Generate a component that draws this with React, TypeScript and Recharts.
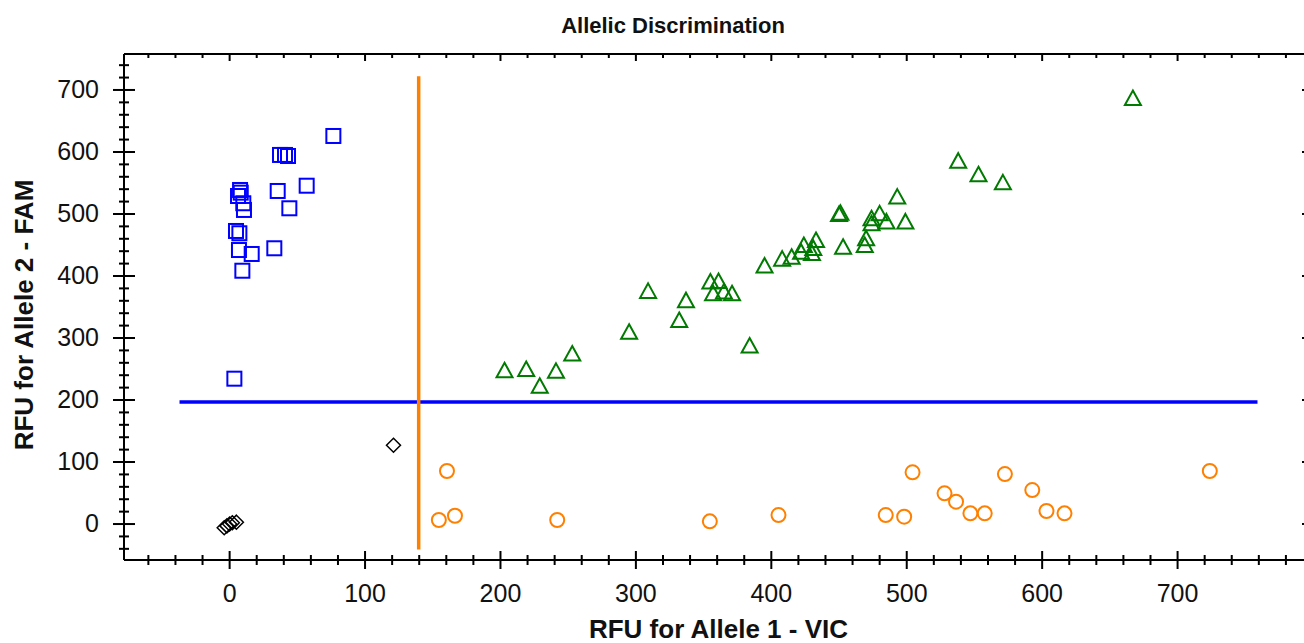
import React from 'react';
import {
  ScatterChart,
  Scatter,
  XAxis,
  YAxis,
  ReferenceLine,
  Label,
} from 'recharts';

// allele 2 homozygotes (FAM)
const allele2X = [76.6, 37.2, 40.9, 43.1, 56.9, 35.5, 44.1, 8.2, 7.7, 6.2, 10.1, 10.6, 4.7, 7.2, 6.9, 16.3, 33.0, 9.4, 3.5];
const allele2Y = [625.8, 595.2, 595.2, 593.5, 545.6, 537.1, 509.2, 534.4, 538.7, 529, 517.3, 506.5, 472.6, 468.9, 441.9, 435.5, 444.7, 408.5, 234.4];

// heterozygotes
const heteroX = [203, 219, 229, 241, 253, 295, 309, 332, 337, 355, 361, 357, 365, 371, 384, 395, 408, 415, 422, 424, 430, 431, 433, 450, 451, 453, 469, 470, 474, 474, 480, 485, 493, 499, 538, 553, 571, 667];
const heteroY = [248, 250, 223, 247, 275, 310, 376, 329, 361, 391, 392, 372, 375, 372, 288, 417, 428, 431, 439, 450, 437, 445, 458, 500, 502, 447, 450, 461, 485, 493, 501, 488, 528, 488, 586, 564, 551, 687];

// allele 1 homozygotes (VIC)
const allele1X = [160.5, 154.5, 166.4, 241.9, 354.6, 405.3, 484.5, 498.1, 504.3, 527.9, 536.4, 547, 557.6, 572.5, 592.7, 603.2, 616.5, 723.8];
const allele1Y = [85.5, 6.5, 13.4, 6.5, 4.3, 14.5, 14.5, 11.8, 83.4, 49.5, 36, 17.2, 17.2, 80.6, 54.8, 21, 17.2, 85.5];

// no template controls / undetermined
const ntcX = [-4, -2, 0, 2, 5, 121];
const ntcY = [-6, -3, 0, 2, 3, 127];

// threshold lines
const vicThreshold = 139.6;
const vicThresholdSpan = [-41, 722];
const famThreshold = 197;
const famThresholdSpan = [-37, 759];

const xDomain = [-78, 800];
const yDomain = [-58, 758];
const xTicks = Array.from({ length: 43 }, (_, i) => -60 + i * 20);
const yTicks = Array.from({ length: 40 }, (_, i) => -40 + i * 20);

const zip = (xs: number[], ys: number[]) => xs.map((x, i) => ({ x, y: ys[i] }));

const FONT = '"Liberation Sans", Arial, sans-serif';
const AXIS = '#000';

const BottomTick = (props: any) => {
  const { x, y, payload } = props;
  const major = payload.value % 100 === 0;
  const len = major ? 9 : 5;
  return (
    <g>
      <line x1={x} x2={x} y1={y - len} y2={y + len} stroke={AXIS} strokeWidth={2} />
      {major && (
        <text x={x} y={y + 42} textAnchor="middle" fontSize={25} fontFamily={FONT} fill="#111">
          {payload.value}
        </text>
      )}
    </g>
  );
};

const TopTick = (props: any) => {
  const { x, y, payload } = props;
  const major = payload.value % 100 === 0;
  return <line x1={x} x2={x} y1={y} y2={y + (major ? 7 : 4)} stroke={AXIS} strokeWidth={2} />;
};

const LeftTick = (props: any) => {
  const { x, y, payload } = props;
  const major = payload.value % 100 === 0;
  const len = major ? 11 : 5;
  return (
    <g>
      <line x1={x - len} x2={x + len} y1={y} y2={y} stroke={AXIS} strokeWidth={2} />
      {major && (
        <text x={x - 25} y={y + 8} textAnchor="end" fontSize={25} fontFamily={FONT} fill="#111">
          {payload.value}
        </text>
      )}
    </g>
  );
};

const RightTick = (props: any) => {
  const { x, y, payload } = props;
  const major = payload.value % 100 === 0;
  const len = major ? 11 : 5;
  return <line x1={x - len} x2={x + len} y1={y} y2={y} stroke={AXIS} strokeWidth={2} />;
};

const SquareShape = ({ cx, cy }: any) => (
  <rect x={cx - 7} y={cy - 7} width={14} height={14} fill="none" stroke="#0000ff" strokeWidth={2} />
);

const TriangleShape = ({ cx, cy }: any) => (
  <polygon
    points={`${cx},${cy - 7.5} ${cx + 8},${cy + 7} ${cx - 8},${cy + 7}`}
    fill="none"
    stroke="#007a00"
    strokeWidth={2}
  />
);

const CircleShape = ({ cx, cy }: any) => (
  <circle cx={cx} cy={cy} r={7} fill="none" stroke="#ff8000" strokeWidth={2} />
);

const DiamondShape = ({ cx, cy }: any) => (
  <polygon
    points={`${cx},${cy - 7} ${cx + 7},${cy} ${cx},${cy + 7} ${cx - 7},${cy}`}
    fill="none"
    stroke="#000"
    strokeWidth={1.5}
  />
);

const YTitle = (props: any) => {
  const { viewBox } = props;
  const cx = viewBox.x + 24;
  const cy = viewBox.y + viewBox.height / 2 + 8;
  return (
    <text
      x={cx}
      y={cy}
      transform={`rotate(-90, ${cx}, ${cy})`}
      textAnchor="middle"
      dominantBaseline="central"
      fontSize={26}
      fontWeight="bold"
      fontFamily={FONT}
      fill="#111"
    >
      RFU for Allele 2 - FAM
    </text>
  );
};

export default function App() {
  return (
    <div
      style={{
        position: 'fixed',
        left: 0,
        top: 0,
        width: 1304,
        height: 643,
        overflow: 'hidden',
        background: '#fff',
        fontFamily: FONT,
      }}
    >
      <div
        style={{
          position: 'absolute',
          left: 0,
          top: 15,
          width: 1346,
          textAlign: 'center',
          fontSize: 22,
          lineHeight: '22px',
          fontWeight: 'bold',
          color: '#111',
        }}
      >
        Allelic Discrimination
      </div>
      <div style={{ position: 'absolute', left: 0, top: 0 }}>
        <ScatterChart width={1330} height={700} margin={{ top: 0, right: 0, bottom: 0, left: 0 }}>
          <XAxis
            xAxisId="bottom"
            type="number"
            dataKey="x"
            orientation="bottom"
            domain={xDomain}
            ticks={xTicks}
            interval={0}
            allowDataOverflow
            height={140}
            tickSize={0}
            tickMargin={0}
            tickLine={false}
            axisLine={{ stroke: AXIS, strokeWidth: 2 }}
            tick={<BottomTick />}
          >
            <Label
              value="RFU for Allele 1 - VIC"
              position="insideTop"
              offset={60}
              fontSize={26}
              fontWeight="bold"
              fontFamily={FONT}
              fill="#111"
            />
          </XAxis>
          <XAxis
            xAxisId="top"
            type="number"
            dataKey="x"
            orientation="top"
            domain={xDomain}
            ticks={xTicks}
            interval={0}
            allowDataOverflow
            height={54}
            tickSize={0}
            tickMargin={0}
            tickLine={false}
            axisLine={{ stroke: AXIS, strokeWidth: 2 }}
            tick={<TopTick />}
          />
          <YAxis
            yAxisId="left"
            type="number"
            dataKey="y"
            domain={yDomain}
            ticks={yTicks}
            interval={0}
            allowDataOverflow
            width={124}
            tickSize={0}
            tickMargin={0}
            tickLine={false}
            axisLine={{ stroke: AXIS, strokeWidth: 2 }}
            tick={<LeftTick />}
            label={<YTitle />}
          />
          <YAxis
            yAxisId="right"
            type="number"
            dataKey="y"
            orientation="right"
            domain={yDomain}
            ticks={yTicks}
            interval={0}
            allowDataOverflow
            width={17}
            tickSize={0}
            tickMargin={0}
            tickLine={false}
            axisLine={{ stroke: AXIS, strokeWidth: 2 }}
            tick={<RightTick />}
          />
          <ReferenceLine
            xAxisId="bottom"
            yAxisId="left"
            segment={[
              { x: famThresholdSpan[0], y: famThreshold },
              { x: famThresholdSpan[1], y: famThreshold },
            ]}
            stroke="#0000ff"
            strokeWidth={3.5}
            ifOverflow="visible"
          />
          <ReferenceLine
            xAxisId="bottom"
            yAxisId="left"
            segment={[
              { x: vicThreshold, y: vicThresholdSpan[0] },
              { x: vicThreshold, y: vicThresholdSpan[1] },
            ]}
            stroke="#ff8000"
            strokeWidth={3.5}
            ifOverflow="visible"
          />
          <Scatter
            name="Allele 2"
            data={zip(allele2X, allele2Y)}
            xAxisId="bottom"
            yAxisId="left"
            shape={SquareShape}
            isAnimationActive={false}
          />
          <Scatter
            name="Heterozygote"
            data={zip(heteroX, heteroY)}
            xAxisId="bottom"
            yAxisId="left"
            shape={TriangleShape}
            isAnimationActive={false}
          />
          <Scatter
            name="Allele 1"
            data={zip(allele1X, allele1Y)}
            xAxisId="bottom"
            yAxisId="left"
            shape={CircleShape}
            isAnimationActive={false}
          />
          <Scatter
            name="NTC"
            data={zip(ntcX, ntcY)}
            xAxisId="bottom"
            yAxisId="left"
            shape={DiamondShape}
            isAnimationActive={false}
          />
        </ScatterChart>
      </div>
    </div>
  );
}
